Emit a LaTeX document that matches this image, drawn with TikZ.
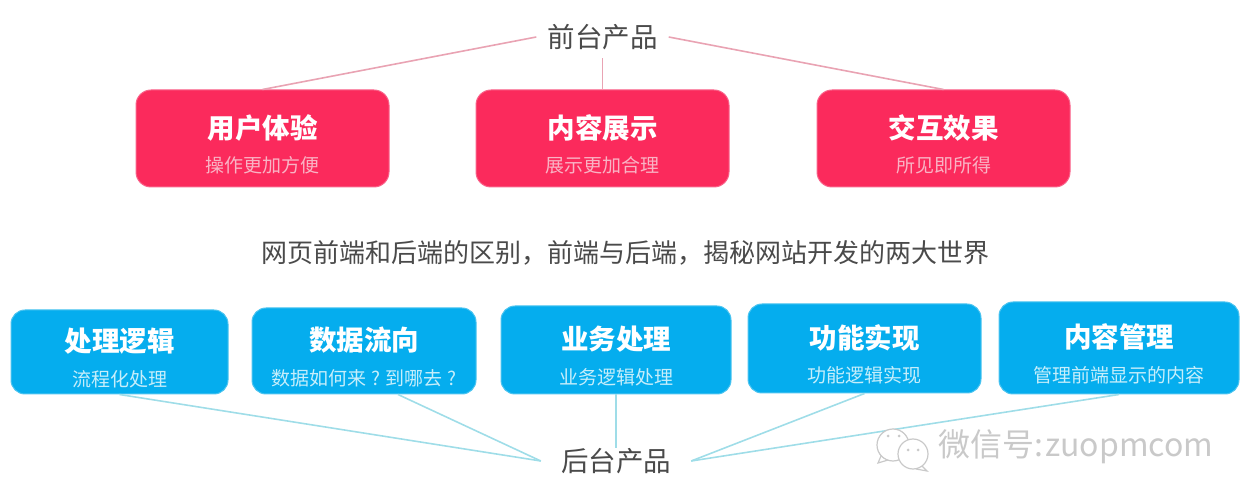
\documentclass[tikz,border=0pt]{standalone}
\usepackage{fontspec}
\setmainfont{Noto Sans CJK SC}
\usepackage{xcolor}
\usetikzlibrary{positioning,calc}
\definecolor{Rose}{HTML}{FB2A5C}
\definecolor{RoseE}{HTML}{F9638A}
\definecolor{RoseT}{HTML}{F9B3C4}
\definecolor{RoseL}{HTML}{E9A3B3}
\definecolor{Sky}{HTML}{05ADEE}
\definecolor{SkyE}{HTML}{4CC4F0}
\definecolor{SkyT}{HTML}{C6EEFB}
\definecolor{SkyL}{HTML}{9FDDE8}
\definecolor{Ink}{HTML}{4A4A4A}
\definecolor{Mark}{HTML}{C9C9C9}
\begin{document}
\begin{tikzpicture}[x=1pt,y=1pt,
    redbox/.style={draw=RoseE,fill=Rose,rounded corners=15pt,inner sep=0pt,line width=1pt},
    bluebox/.style={draw=SkyE,fill=Sky,rounded corners=14pt,inner sep=0pt,line width=1pt},
    head/.style={font=\fontsize{27.5}{27.5}\selectfont\bfseries,text=white,inner sep=0pt,yshift=11pt},
    redsub/.style={font=\fontsize{19}{19}\selectfont,text=RoseT,inner sep=0pt,yshift=-27pt},
    bluesub/.style={font=\fontsize{19}{19}\selectfont,text=SkyT,inner sep=0pt,yshift=-27pt},
    group/.style={font=\fontsize{27.5}{27.5}\selectfont,text=Ink,inner sep=0pt,minimum width=110pt,minimum height=42pt},
    redline/.style={RoseL,line width=1.6pt},
    blueline/.style={SkyL,line width=1.6pt}]
  \useasboundingbox (0,0) rectangle (1245,490);
  % front end
  \node[group,minimum width=132pt] (front) at (602.5,453) {前台产品};
  \node[redbox,minimum width=253pt,minimum height=97pt] (ux) at (262.5,351.5) {};
  \node[head] (uxh) at (ux.center) {用户体验};
  \node[redsub] (uxs) at (ux.center) {操作更加方便};
  \node[redbox,minimum width=253pt,minimum height=97pt] (show) at (602.5,351.5) {};
  \node[head] (showh) at (show.center) {内容展示};
  \node[redsub] (shows) at (show.center) {展示更加合理};
  \node[redbox,minimum width=253pt,minimum height=97pt] (act) at (943.5,351.5) {};
  \node[head] (acth) at (act.center) {交互效果};
  \node[redsub] (acts) at (act.center) {所见即所得};
  \draw[redline] (front.west) -- (ux.north);
  \draw[redline] (front.south) -- (show.north);
  \draw[redline] (front.east) -- (act.north);
  % caption
  \node[font=\fontsize{26}{26}\selectfont,text=Ink,inner sep=0pt] (title) at (625,237)
    {网页前端和后端的区别，前端与后端，揭秘网站开发的两大世界};
  % back end
  \node[group,minimum width=150pt,minimum height=26pt] (back) at (616,29) {后台产品};
  \node[bluebox,minimum width=217pt,minimum height=84pt] (logic) at (119.5,138) {};
  \node[head] (logich) at (logic.center) {处理逻辑};
  \node[bluesub] (logics) at (logic.center) {流程化处理};
  \node[bluebox,minimum width=224pt,minimum height=86pt] (flow) at (364,139) {};
  \node[head] (flowh) at (flow.center) {数据流向};
  \node[bluesub] (flows) at (flow.center) {数据如何来 ? 到哪去 ?};
  \node[bluebox,minimum width=230pt,minimum height=88pt] (biz) at (616,140) {};
  \node[head] (bizh) at (biz.center) {业务处理};
  \node[bluesub] (bizs) at (biz.center) {业务逻辑处理};
  \node[bluebox,minimum width=233pt,minimum height=89pt] (func) at (864.5,141.5) {};
  \node[head] (funch) at (func.center) {功能实现};
  \node[bluesub] (funcs) at (func.center) {功能逻辑实现};
  \node[bluebox,minimum width=240pt,minimum height=92pt] (cont) at (1119,142) {};
  \node[head] (conth) at (cont.center) {内容管理};
  \node[bluesub] (conts) at (cont.center) {管理前端显示的内容};
  \draw[blueline] (back.west) -- (logic.south);
  \draw[blueline] (back.west) -- ($(flow.south)+(34,0)$);
  \draw[blueline] (back.north) -- (biz.south);
  \draw[blueline] (back.east) -- (func.south);
  \draw[blueline] (back.east) -- (cont.south);
  % watermark
  \draw[Mark,fill=white,line width=1.2pt] (893,45) circle (16);
  \draw[Mark,fill=white,line width=1.2pt] (913,36) circle (15);
  \fill[Mark] (888,54) circle (1.5) (899,54) circle (1.5) (908,40) circle (1.5) (918,40) circle (1.5);
  \draw[Mark,line width=1.2pt] (881,34) -- (878,27) -- (888,30);
  \draw[Mark,line width=1.2pt] (922,24) -- (927,19) -- (916,21);
  \node[font=\fontsize{32}{32}\selectfont,text=Mark,inner sep=0pt,anchor=west] (mark) at (938,43) {微信号:\hspace{-7pt} zuopmcom};
\end{tikzpicture}
\end{document}
